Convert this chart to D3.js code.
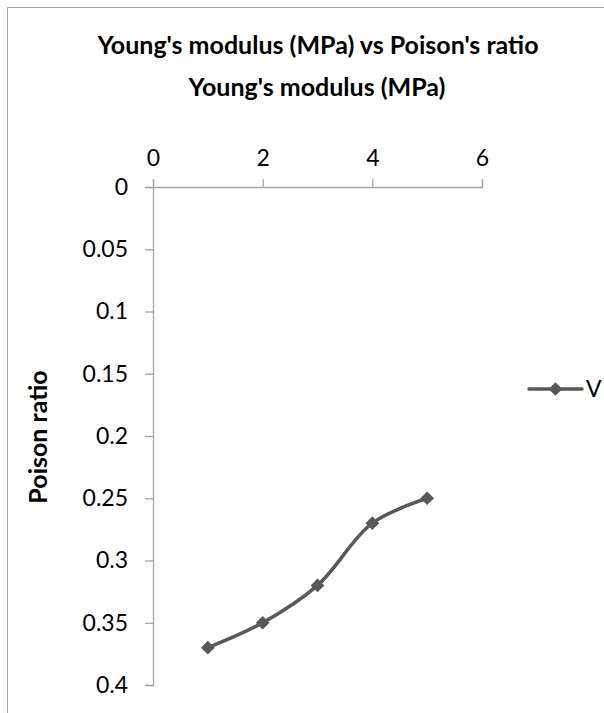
<!DOCTYPE html>
<html>
<head>
<meta charset="utf-8">
<script src="https://cdn.jsdelivr.net/npm/d3@7"></script>
<style>
  html, body { margin: 0; padding: 0; background: #fff; }
  svg { display: block; }
  text { font-family: Lato, "Open Sans", sans-serif; }
</style>
</head>
<body>
<svg id="chart" width="604" height="713"></svg>
<script>
// Young's modulus (MPa) against Poisson's ratio, series "V"
const modulus = [1, 2, 3, 4, 5];
const poisson = [0.37, 0.35, 0.32, 0.27, 0.25];
const xTicks = [0, 2, 4, 6];
const yTicks = [0, 0.05, 0.1, 0.15, 0.2, 0.25, 0.3, 0.35, 0.4];
const seriesName = "V";

const svg = d3.select("#chart");

// chart frame (continues past the right and bottom edges)
svg.append("rect")
  .attr("x", 7.5).attr("y", 7.5)
  .attr("width", 720).attr("height", 820)
  .attr("fill", "#fff").attr("stroke", "#a6a6a6").attr("stroke-width", 1);

const plot = { left: 153, right: 482, top: 187, bottom: 685 };

const x = d3.scaleLinear().domain([0, 6]).range([plot.left, plot.right]);
const y = d3.scaleLinear().domain([0, 0.4]).range([plot.top, plot.bottom]);

const axisColor = "#a6a6a6";
const tickFont = "23px";

// horizontal axis along the top
const gx = svg.append("g")
  .attr("transform", `translate(0,${plot.top})`)
  .call(d3.axisTop(x).tickValues(xTicks).tickSize(8).tickPadding(13).tickFormat(d3.format("d")));

// vertical axis, values increasing downward
const gy = svg.append("g")
  .attr("transform", `translate(${plot.left},0)`)
  .call(d3.axisLeft(y).tickValues(yTicks).tickSize(8).tickPadding(17).tickFormat(d => d === 0 ? "0" : String(+d.toFixed(2))));

[gx, gy].forEach(g => {
  g.select(".domain").attr("stroke", axisColor).attr("stroke-width", 1.3);
  g.selectAll(".tick line").attr("stroke", axisColor).attr("stroke-width", 1.3);
  g.selectAll(".tick text").attr("fill", "#000").style("font-size", tickFont);
});

// titles
svg.append("text")
  .attr("x", 318).attr("y", 54)
  .attr("text-anchor", "middle")
  .style("font-size", "25px").style("font-weight", "bold")
  .text("Young's modulus (MPa) vs Poison's ratio");

svg.append("text")
  .attr("x", 317).attr("y", 96)
  .attr("text-anchor", "middle")
  .style("font-size", "25px").style("font-weight", "bold")
  .text("Young's modulus (MPa)");

svg.append("text")
  .attr("transform", `translate(47,437) rotate(-90)`)
  .attr("text-anchor", "middle")
  .style("font-size", "25px").style("font-weight", "bold")
  .text("Poison ratio");

// series
const pts = modulus.map((m, i) => [m, poisson[i]]);
const lineColor = "#595959";

svg.append("path")
  .datum(pts)
  .attr("fill", "none")
  .attr("stroke", lineColor)
  .attr("stroke-width", 3.5)
  .attr("stroke-linejoin", "round")
  .attr("d", d3.line().x(d => x(d[0])).y(d => y(d[1])).curve(d3.curveCatmullRom.alpha(0.5)));

const diamond = d3.symbol().type(d3.symbolDiamond2).size(120);

svg.selectAll(".pt")
  .data(pts)
  .join("path")
  .attr("class", "pt")
  .attr("transform", d => `translate(${x(d[0])},${y(d[1])})`)
  .attr("d", diamond)
  .attr("fill", lineColor);

// legend
const lg = svg.append("g").attr("transform", "translate(529,389)");
lg.append("line")
  .attr("x1", 0).attr("x2", 53).attr("y1", 0).attr("y2", 0)
  .attr("stroke", lineColor).attr("stroke-width", 3.5).attr("stroke-linecap", "round");
lg.append("path")
  .attr("transform", "translate(26.5,0)")
  .attr("d", diamond)
  .attr("fill", lineColor);
lg.append("text")
  .attr("x", 57).attr("y", 8)
  .style("font-size", tickFont)
  .attr("fill", "#000")
  .text(seriesName);
</script>
</body>
</html>
